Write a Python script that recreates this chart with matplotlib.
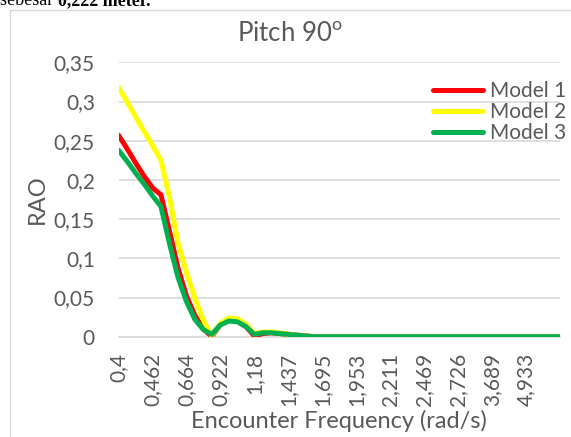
import matplotlib
matplotlib.use("Agg")
import matplotlib.pyplot as plt
from matplotlib.patches import Rectangle

plt.rcParams["font.family"] = ["Lato", "DejaVu Sans"]
plt.rcParams["mathtext.fontset"] = "custom"
plt.rcParams["mathtext.rm"] = "Lato"

# Encounter frequency tick labels (one label every 4 sampled frequencies)
tick_labels = ["0,4", "0,462", "0,664", "0,922", "1,18", "1,437", "1,695",
               "1,953", "2,211", "2,469", "2,726", "3,689", "4,933"]
label_step = 4

# RAO values per sampled frequency
model_1 = [0.257, 0.240, 0.222, 0.205, 0.190, 0.181, 0.135, 0.088, 0.052, 0.027,
           0.010, 0.000, 0.016, 0.021, 0.020, 0.013, 0.001, 0.004, 0.005, 0.004,
           0.003, 0.002, 0.001, 0, 0, 0, 0, 0, 0, 0,
           0, 0, 0, 0, 0, 0, 0, 0, 0, 0,
           0, 0, 0, 0, 0, 0, 0, 0, 0, 0,
           0, 0, 0]
model_2 = [0.318, 0.300, 0.281, 0.262, 0.244, 0.225, 0.178, 0.120, 0.082, 0.049,
           0.021, 0.001, 0.017, 0.024, 0.023, 0.016, 0.004, 0.006, 0.006, 0.005,
           0.003, 0.002, 0.001, 0, 0, 0, 0, 0, 0, 0,
           0, 0, 0, 0, 0, 0, 0, 0, 0, 0,
           0, 0, 0, 0, 0, 0, 0, 0, 0, 0,
           0, 0, 0]
model_3 = [0.238, 0.224, 0.209, 0.195, 0.180, 0.166, 0.119, 0.076, 0.045, 0.022,
           0.009, 0.003, 0.015, 0.020, 0.019, 0.013, 0.003, 0.005, 0.005, 0.004,
           0.003, 0.002, 0.001, 0, 0, 0, 0, 0, 0, 0,
           0, 0, 0, 0, 0, 0, 0, 0, 0, 0,
           0, 0, 0, 0, 0, 0, 0, 0, 0, 0,
           0, 0, 0]

series = [("Model 1", model_1, "#FF0000"),
          ("Model 2", model_2, "#FFFF00"),
          ("Model 3", model_3, "#00B050")]

W, H = 571, 437
fig = plt.figure(figsize=(W / 100, H / 100), dpi=100)
fig.patch.set_facecolor("white")

# chart frame
fig.patches.append(Rectangle((10 / W, -0.1), 1.2, (H - 10) / H + 0.1,
                             transform=fig.transFigure, fill=False,
                             edgecolor="#d9d9d9", linewidth=1.0))

# running document text above the chart
t1 = fig.text(0, 1 - 5 / H, "sebesar ", fontsize=13, family="Liberation Serif",
              va="baseline", ha="left", color="black")
fig.canvas.draw()
x_next = t1.get_window_extent().x1 / W
fig.text(x_next, 1 - 5 / H, "0,222 meter.", fontsize=13, family="Liberation Serif",
         fontweight="bold", va="baseline", ha="left", color="black")

ax = fig.add_axes([118.5 / W, 1 - 336.7 / H, (560 - 118.5) / W, (336.7 - 62.3) / H])
x = list(range(len(model_1)))
for name, vals, col in series:
    ax.plot(x, vals, color=col, linewidth=3.6, solid_joinstyle="round",
            solid_capstyle="round", label=name, zorder=3)

ax.set_xlim(0, len(model_1) - 1)
ax.set_ylim(0, 0.35)
ax.set_yticks([0, 0.05, 0.1, 0.15, 0.2, 0.25, 0.3, 0.35])
ax.set_yticklabels(["0", "0,05", "0,1", "0,15", "0,2", "0,25", "0,3", "0,35"])
ax.set_xticks(list(range(0, label_step * len(tick_labels), label_step)))
ax.set_xticklabels(tick_labels, rotation=90, va="top", ha="center")
ax.grid(axis="y", color="#d9d9d9", linewidth=1.2)
ax.set_axisbelow(True)
for s in ["top", "right", "left"]:
    ax.spines[s].set_visible(False)
ax.spines["bottom"].set_color("#d9d9d9")
ax.spines["bottom"].set_linewidth(1.2)
ax.tick_params(axis="both", length=0, colors="#595959", labelsize=15)
ax.tick_params(axis="y", pad=17)
ax.tick_params(axis="x", pad=11.5)

ax.set_ylabel("RAO", fontsize=17, color="#595959")
ax.yaxis.label.set_va("baseline")
ax.yaxis.set_label_coords((44 - 118.5) / (560 - 118.5), 0.5)
ax.set_xlabel("Encounter Frequency (rad/s)", fontsize=17, color="#595959")
ax.xaxis.label.set_va("baseline")
ax.xaxis.set_label_coords(0.5, (336.7 - 428) / (336.7 - 62.3))

fig.text(290 / W, 1 - 41.7 / H, r"Pitch 90$^\mathrm{o}$", fontsize=18.5, color="#595959",
         ha="center", va="baseline")

leg = ax.legend(loc="center left", bbox_to_anchor=((432.5 - 118.5) / (560 - 118.5),
                                                    (336.7 - 112.3) / (336.7 - 62.3)),
                frameon=False, fontsize=15, handlelength=2.4, handletextpad=0.36,
                labelspacing=0.05, borderaxespad=0, borderpad=0)
for t in leg.get_texts():
    t.set_color("#595959")

fig.savefig("out.png", dpi=100, facecolor="white")
